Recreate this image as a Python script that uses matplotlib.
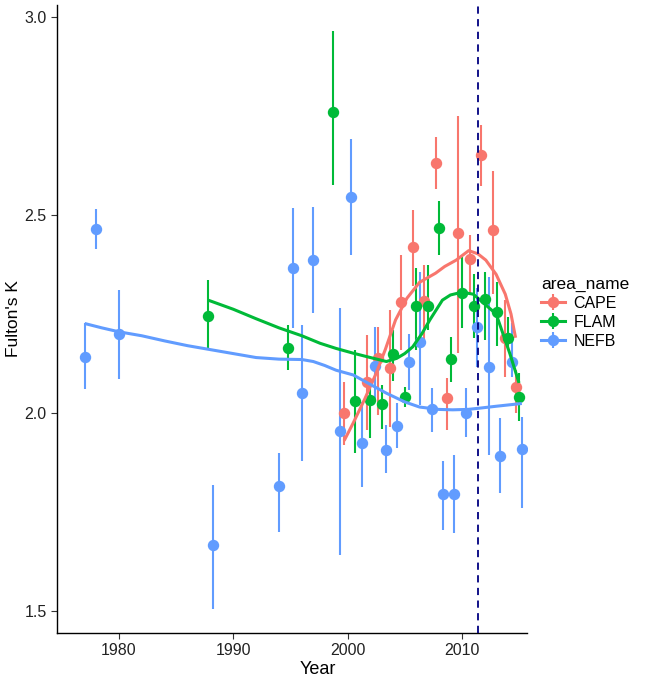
import matplotlib
matplotlib.use("Agg")
import matplotlib.pyplot as plt
import numpy as np
from matplotlib.lines import Line2D

plt.rcParams['font.family'] = ['Liberation Sans', 'DejaVu Sans']

# pointrange data (year, Fulton's K, lower, upper)
cape_year = [1999.7, 2001.7, 2002.7, 2003.7, 2004.7, 2005.7, 2006.7, 2007.7,
             2008.7, 2009.7, 2010.7, 2011.7, 2012.7, 2013.8, 2014.7]
cape_k = [2.000, 2.079, 2.140, 2.113, 2.281, 2.419, 2.283, 2.631,
          2.037, 2.454, 2.389, 2.652, 2.461, 2.190, 2.066]
cape_lo = [1.920, 1.957, 1.995, 1.965, 2.159, 2.320, 2.184, 2.565,
           1.957, 2.152, 2.300, 2.574, 2.300, 2.090, 2.000]
cape_hi = [2.079, 2.197, 2.218, 2.260, 2.400, 2.513, 2.374, 2.698,
           2.088, 2.750, 2.450, 2.727, 2.611, 2.285, 2.109]

flam_year = [1987.8, 1994.8, 1998.75, 2000.65, 2002.0, 2003.0, 2004.0, 2005.0, 2006.0,
             2007.05, 2008.0, 2009.05, 2010.0, 2011.05, 2012.0, 2013.05, 2014.05, 2015.0]
flam_k = [2.246, 2.165, 2.761, 2.030, 2.033, 2.022, 2.148, 2.041, 2.270,
          2.270, 2.468, 2.136, 2.304, 2.271, 2.289, 2.254, 2.190, 2.040]
flam_lo = [2.159, 2.109, 2.577, 1.900, 1.937, 1.960, 2.080, 2.016, 2.159,
           2.210, 2.400, 2.079, 2.215, 2.190, 2.184, 2.170, 2.160, 1.980]
flam_hi = [2.336, 2.222, 2.965, 2.159, 2.083, 2.070, 2.210, 2.066, 2.365,
           2.374, 2.535, 2.193, 2.395, 2.350, 2.357, 2.330, 2.243, 2.100]

nefb_year = [1977.0, 1978.0, 1980.0, 1988.25, 1994.0, 1995.25, 1996.0, 1997.0,
             1999.3, 2000.3, 2001.25, 2002.4, 2003.35, 2004.35, 2005.35, 2006.35,
             2007.35, 2008.35, 2009.35, 2010.35, 2011.35, 2012.4, 2013.35, 2014.35, 2015.25]
nefb_k = [2.142, 2.464, 2.199, 1.667, 1.816, 2.367, 2.050, 2.387,
          1.955, 2.546, 1.923, 2.119, 1.907, 1.967, 2.130, 2.180,
          2.009, 1.795, 1.795, 1.999, 2.216, 2.117, 1.892, 2.130, 1.908]
nefb_lo = [2.060, 2.413, 2.085, 1.505, 1.700, 2.214, 1.880, 2.253,
           1.641, 2.399, 1.814, 2.030, 1.848, 1.912, 2.058, 2.020,
           1.953, 1.705, 1.697, 1.940, 2.117, 1.894, 1.798, 2.090, 1.760]
nefb_hi = [2.227, 2.514, 2.311, 1.818, 1.899, 2.517, 2.222, 2.519,
           2.265, 2.692, 2.029, 2.218, 1.970, 2.025, 2.200, 2.357,
           2.063, 1.880, 1.894, 2.063, 2.316, 2.344, 1.987, 2.227, 1.990]

# smoothed trends
cape_smooth_year = [1999.7, 2000.5, 2001.5, 2002.5, 2003.3, 2004.2, 2005.2, 2006.3, 2007.7,
                    2008.5, 2009.5, 2010.6, 2011.4, 2012.1, 2013.0, 2013.8, 2014.3, 2014.7]
cape_smooth_k = [1.930, 1.975, 2.035, 2.100, 2.160, 2.235, 2.290, 2.330, 2.353,
                 2.370, 2.386, 2.410, 2.402, 2.386, 2.350, 2.300, 2.250, 2.190]
flam_smooth_year = [1987.8, 1990, 1992, 1994, 1996, 1997.6, 1999, 2000.5, 2002, 2003.4,
                    2004.3, 2005, 2005.7, 2006.5, 2007.2, 2008.3, 2009, 2010, 2011,
                    2011.6, 2012.4, 2013.0, 2013.6, 2014.2, 2015.0]
flam_smooth_k = [2.285, 2.262, 2.238, 2.215, 2.195, 2.176, 2.163, 2.151, 2.140, 2.130,
                 2.138, 2.150, 2.167, 2.200, 2.235, 2.285, 2.298, 2.305, 2.300,
                 2.285, 2.265, 2.250, 2.200, 2.150, 2.076]
nefb_smooth_year = [1977.0, 1978.5, 1980, 1982, 1984, 1986, 1988, 1990, 1992, 1994,
                    1996, 1997, 1998, 1999, 2000.5, 2002, 2003.4, 2005, 2006.3, 2008,
                    2009.2, 2010.5, 2011.5, 2013, 2015.25]
nefb_smooth_k = [2.226, 2.215, 2.205, 2.195, 2.182, 2.170, 2.160, 2.150, 2.140, 2.136,
                 2.135, 2.130, 2.120, 2.108, 2.096, 2.072, 2.050, 2.028, 2.015, 2.009,
                 2.008, 2.009, 2.012, 2.017, 2.024]

vline_year = 2011.4

areas = ["CAPE", "FLAM", "NEFB"]
colors = {"CAPE": "#F8766D", "FLAM": "#00BA38", "NEFB": "#619CFF"}
series = {
    "CAPE": (cape_year, cape_k, cape_lo, cape_hi, cape_smooth_year, cape_smooth_k),
    "FLAM": (flam_year, flam_k, flam_lo, flam_hi, flam_smooth_year, flam_smooth_k),
    "NEFB": (nefb_year, nefb_k, nefb_lo, nefb_hi, nefb_smooth_year, nefb_smooth_k),
}

fig = plt.figure(figsize=(6.69, 6.80), dpi=100)
ax = fig.add_axes([57 / 669, 47 / 680, 470 / 669, 628 / 680])

for name in areas:
    yr, k, lo, hi, _, _ = series[name]
    k = np.array(k)
    yerr = [k - np.array(lo), np.array(hi) - k]
    ax.errorbar(yr, k, yerr=yerr, fmt='o', color=colors[name], ms=7.2,
                elinewidth=1.5, capsize=0, zorder=2)

for name in areas:
    _, _, _, _, sy, sk = series[name]
    ax.plot(sy, sk, color=colors[name], lw=2.2, zorder=3, solid_capstyle='butt')

ax.axvline(vline_year, color='#000080', lw=1.3, ls=(0, (4, 3)), zorder=4)

ax.set_xlim(1974.58, 2015.7)
ax.set_ylim(1.4444, 3.0303)
ax.set_xticks([1980, 1990, 2000, 2010])
ax.set_yticks([1.5, 2.0, 2.5, 3.0])
ax.set_yticklabels(['1.5', '2.0', '2.5', '3.0'])
ax.tick_params(labelsize=11.5, labelcolor='#222222', length=4, width=0.8, color='#333333')
for side in ['top', 'right']:
    ax.spines[side].set_visible(False)
for side in ['left', 'bottom']:
    ax.spines[side].set_linewidth(1.0)
ax.set_xlabel("Year", fontsize=13)
ax.xaxis.set_label_coords(0.555, -0.045)
ax.set_ylabel("Fulton's K", fontsize=12.5)
ax.yaxis.set_label_coords(-0.076, 0.5)

handles = [(Line2D([], [], color=colors[n], lw=2.2),
            Line2D([], [], color=colors[n], marker='|', ms=12, mew=1.5, ls='none'),
            Line2D([], [], color=colors[n], marker='o', ms=7.2, ls='none'))
           for n in areas]
fig.legend(handles, areas, title="area_name", loc='center left',
           bbox_to_anchor=(527 / 669, 1 - 313 / 680), frameon=False,
           fontsize=11.5, title_fontsize=12.5, handlelength=1.5, handletextpad=0.5,
           labelspacing=0.25, alignment='left')

fig.savefig("out.png", dpi=100)
